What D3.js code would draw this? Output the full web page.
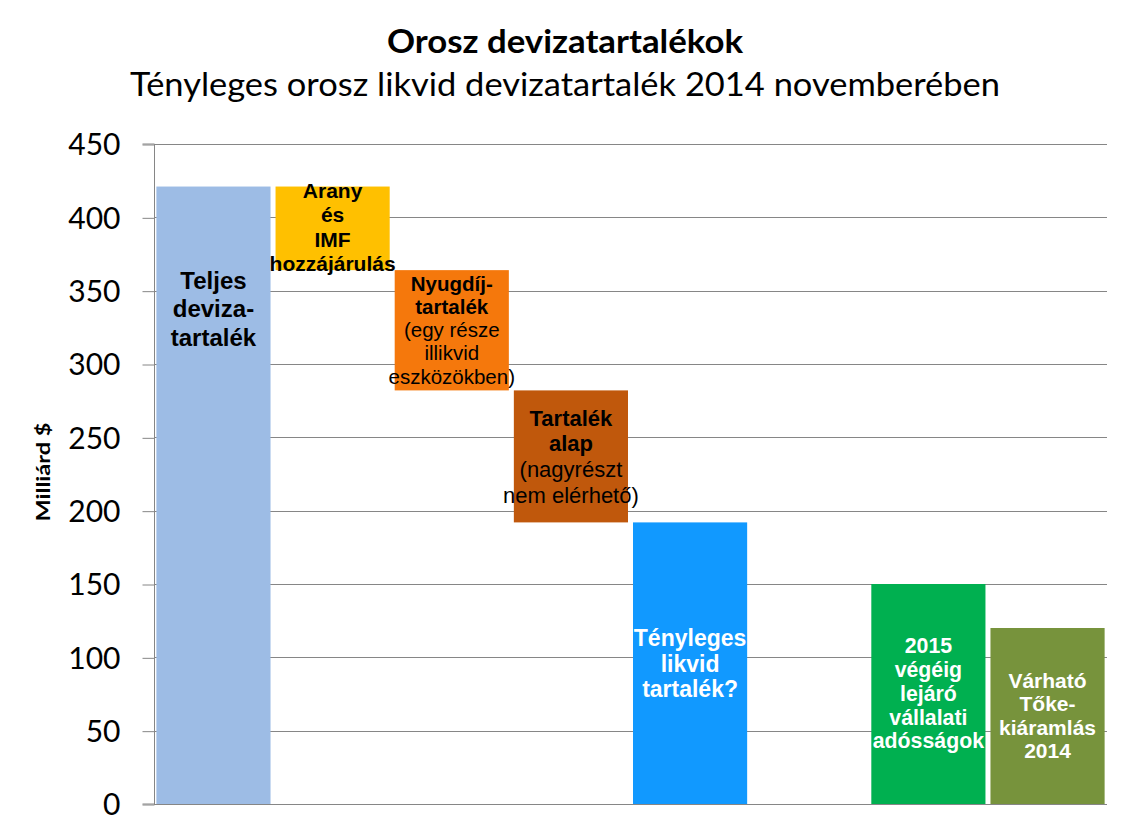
<!DOCTYPE html>
<html>
<head>
<meta charset="utf-8">
<script src="https://cdn.jsdelivr.net/npm/d3@7"></script>
<style>
  html, body { margin: 0; padding: 0; background: #ffffff; }
  svg { display: block; }
</style>
</head>
<body>
<svg id="chart" width="1130" height="837"></svg>
<script>
// ---------- data ----------
const categories = ["Teljes", "Arany", "Nyugdíj", "Tartalék", "Tényleges", "üres", "2015", "Várható"];
const barBase = [0, 364, 282, 192, 0, null, 0, 0];
const barTop  = [421, 421, 364, 282, 192, null, 150, 120];
const barColors = ["#9DBCE5", "#FFC000", "#F5780C", "#C0580C", "#1199FF", null, "#00B050", "#77933C"];
const yTicks = [0, 50, 100, 150, 200, 250, 300, 350, 400, 450];
const labelLines = [
  [["Teljes", true], ["deviza-", true], ["tartalék", true]],
  [["Arany", true], ["és", true], ["IMF", true], ["hozzájárulás", true]],
  [["Nyugdíj-", true], ["tartalék", true], ["(egy része", false], ["illikvid", false], ["eszközökben)", false]],
  [["Tartalék", true], ["alap", true], ["(nagyrészt", false], ["nem elérhető)", false]],
  [["Tényleges", true], ["likvid", true], ["tartalék?", true]],
  [],
  [["2015", true], ["végéig", true], ["lejáró", true], ["vállalati", true], ["adósságok", true]],
  [["Várható", true], ["Tőke-", true], ["kiáramlás", true], ["2014", true]]
];
const titleText = "Orosz devizatartalékok";
const subtitleText = "Tényleges orosz likvid devizatartalék 2014 novemberében";
const yAxisTitle = "Milliárd $";

// ---------- layout (positions / styles) ----------
const labelLayout = [
  { first: 351.3, size: 24,   lh: 28.5, color: "#000" },
  { first: 413.2, size: 21,   lh: 24.3, color: "#000" },
  { first: 349.9, size: 20.5, lh: 23.2, color: "#000" },
  { first: 258.0, size: 22,   lh: 25.7, color: "#000" },
  { first: 107.6, size: 23,   lh: 25.5, color: "#fff" },
  null,
  { first: 102.8, size: 21.3, lh: 23.8, color: "#fff" },
  { first: 79.0,  size: 21,   lh: 23.3, color: "#fff" }
];

const svg = d3.select("#chart");
const plot = { left: 154, right: 1107, top: 144, bottom: 804 };

const x = d3.scaleBand()
  .domain(categories)
  .range([plot.left, plot.right])
  .paddingInner(0.042)
  .paddingOuter(0.02);

const y = d3.scaleLinear()
  .domain([0, 450])
  .range([plot.bottom, plot.top]);

// gridlines
svg.append("g")
  .selectAll("line")
  .data(yTicks)
  .join("line")
  .attr("x1", plot.left)
  .attr("x2", plot.right)
  .attr("y1", d => Math.round(y(d)) + 0.5)
  .attr("y2", d => Math.round(y(d)) + 0.5)
  .attr("stroke", "#868686")
  .attr("stroke-width", 1);

// y axis
const yAxis = d3.axisLeft(y)
  .tickValues(yTicks)
  .tickSize(12)
  .tickPadding(22)
  .tickFormat(d3.format("d"));

const gy = svg.append("g")
  .attr("transform", `translate(${plot.left + 0.5},0)`)
  .call(yAxis);
gy.select(".domain").attr("stroke", "#868686").attr("d", `M-12,${y(450)}H0V${y(0)}H-12`);
gy.selectAll(".tick line").attr("stroke", "#868686").attr("transform", "translate(0,0.5)");
gy.selectAll(".tick text")
  .attr("font-family", "Lato, 'Open Sans', sans-serif")
  .attr("font-size", 30)
  .attr("fill", "#000")
  .attr("dy", "0.36em");

// bars
const barData = categories.map((c, i) => ({ c, i, base: barBase[i], top: barTop[i], color: barColors[i] }))
  .filter(d => d.top !== null);

svg.append("g")
  .selectAll("rect")
  .data(barData)
  .join("rect")
  .attr("x", d => x(d.c))
  .attr("width", x.bandwidth())
  .attr("y", d => y(d.top))
  .attr("height", d => y(d.base) - y(d.top))
  .attr("fill", d => d.color);

// bar labels
const lg = svg.append("g").attr("font-family", "'Liberation Sans', Arial, sans-serif");
categories.forEach((c, i) => {
  const lay = labelLayout[i];
  if (!lay) return;
  const cx = x(c) + x.bandwidth() / 2;
  const t = lg.append("text")
    .attr("text-anchor", "middle")
    .attr("font-size", lay.size)
    .attr("fill", lay.color);
  labelLines[i].forEach((ln, k) => {
    t.append("tspan")
      .attr("x", cx)
      .attr("y", y(lay.first) + k * lay.lh)
      .attr("font-weight", ln[1] ? "bold" : "normal")
      .text(ln[0]);
  });
});

// titles
svg.append("text")
  .attr("x", 565).attr("y", 53)
  .attr("text-anchor", "middle")
  .attr("font-family", "Lato, 'Open Sans', sans-serif")
  .attr("font-weight", "bold")
  .attr("font-size", 32)
  .attr("textLength", 356)
  .attr("lengthAdjust", "spacingAndGlyphs")
  .text(titleText);

svg.append("text")
  .attr("x", 565).attr("y", 96)
  .attr("text-anchor", "middle")
  .attr("font-family", "Lato, 'Open Sans', sans-serif")
  .attr("font-size", 32)
  .attr("textLength", 870)
  .attr("lengthAdjust", "spacingAndGlyphs")
  .text(subtitleText);

// y axis title
svg.append("text")
  .attr("transform", "translate(50,472) rotate(-90)")
  .attr("text-anchor", "middle")
  .attr("font-family", "Lato, 'Open Sans', sans-serif")
  .attr("font-weight", "bold")
  .attr("font-size", 19)
  .attr("textLength", 99)
  .attr("lengthAdjust", "spacingAndGlyphs")
  .text(yAxisTitle);
</script>
</body>
</html>
